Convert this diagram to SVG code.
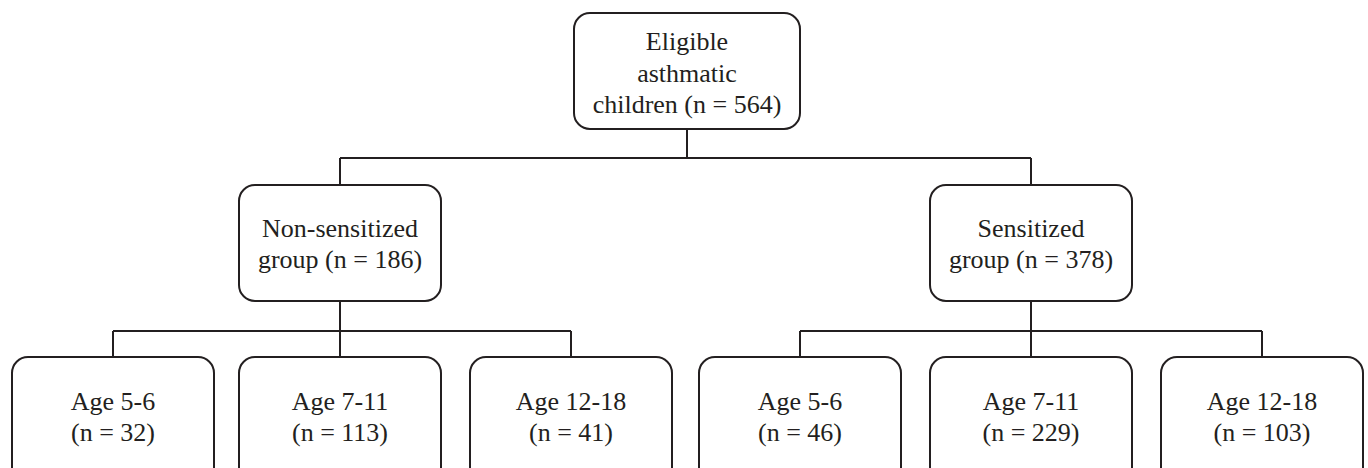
<svg xmlns="http://www.w3.org/2000/svg" width="1368" height="468" viewBox="0 0 1368 468">
<style>
.box{fill:#fff;stroke:#231f20;stroke-width:2}
.ln{fill:none;stroke:#231f20;stroke-width:2}
text{font-family:"Liberation Serif","DejaVu Serif",serif;font-size:26px;fill:#231f20;text-anchor:middle}
</style>
<rect width="1368" height="468" fill="#fff"/>
<g id="connectors">
<path class="ln" d="M687 129V158M340 158H1031M340 158V185M1031 158V185"/>
<path class="ln" d="M340 301V331M113 331H571M113 331V357M340 331V357M571 331V357"/>
<path class="ln" d="M1031 301V331M800 331H1262M800 331V357M1031 331V357M1262 331V357"/>
</g>
<g id="root">
<rect class="box" x="574" y="13" width="226" height="116" rx="16"/>
<text x="687" y="50">Eligible</text>
<text x="687" y="82">asthmatic</text>
<text x="687" y="113">children (n = 564)</text>
</g>
<g id="nonsens">
<rect class="box" x="239" y="185" width="202" height="116" rx="16"/>
<text x="340" y="237">Non-sensitized</text>
<text x="340" y="268">group (n = 186)</text>
</g>
<g id="sens">
<rect class="box" x="930" y="185" width="202" height="116" rx="16"/>
<text x="1031" y="237">Sensitized</text>
<text x="1031" y="268">group (n = 378)</text>
</g>
<g id="ns-a">
<rect class="box" x="12" y="357" width="202" height="130" rx="16"/>
<text x="113" y="410">Age 5-6</text>
<text x="113" y="441">(n = 32)</text>
</g>
<g id="ns-b">
<rect class="box" x="239" y="357" width="202" height="130" rx="16"/>
<text x="340" y="410">Age 7-11</text>
<text x="340" y="441">(n = 113)</text>
</g>
<g id="ns-c">
<rect class="box" x="470" y="357" width="202" height="130" rx="16"/>
<text x="571" y="410">Age 12-18</text>
<text x="571" y="441">(n = 41)</text>
</g>
<g id="s-a">
<rect class="box" x="699" y="357" width="202" height="130" rx="16"/>
<text x="800" y="410">Age 5-6</text>
<text x="800" y="441">(n = 46)</text>
</g>
<g id="s-b">
<rect class="box" x="930" y="357" width="202" height="130" rx="16"/>
<text x="1031" y="410">Age 7-11</text>
<text x="1031" y="441">(n = 229)</text>
</g>
<g id="s-c">
<rect class="box" x="1161" y="357" width="202" height="130" rx="16"/>
<text x="1262" y="410">Age 12-18</text>
<text x="1262" y="441">(n = 103)</text>
</g>
</svg>
